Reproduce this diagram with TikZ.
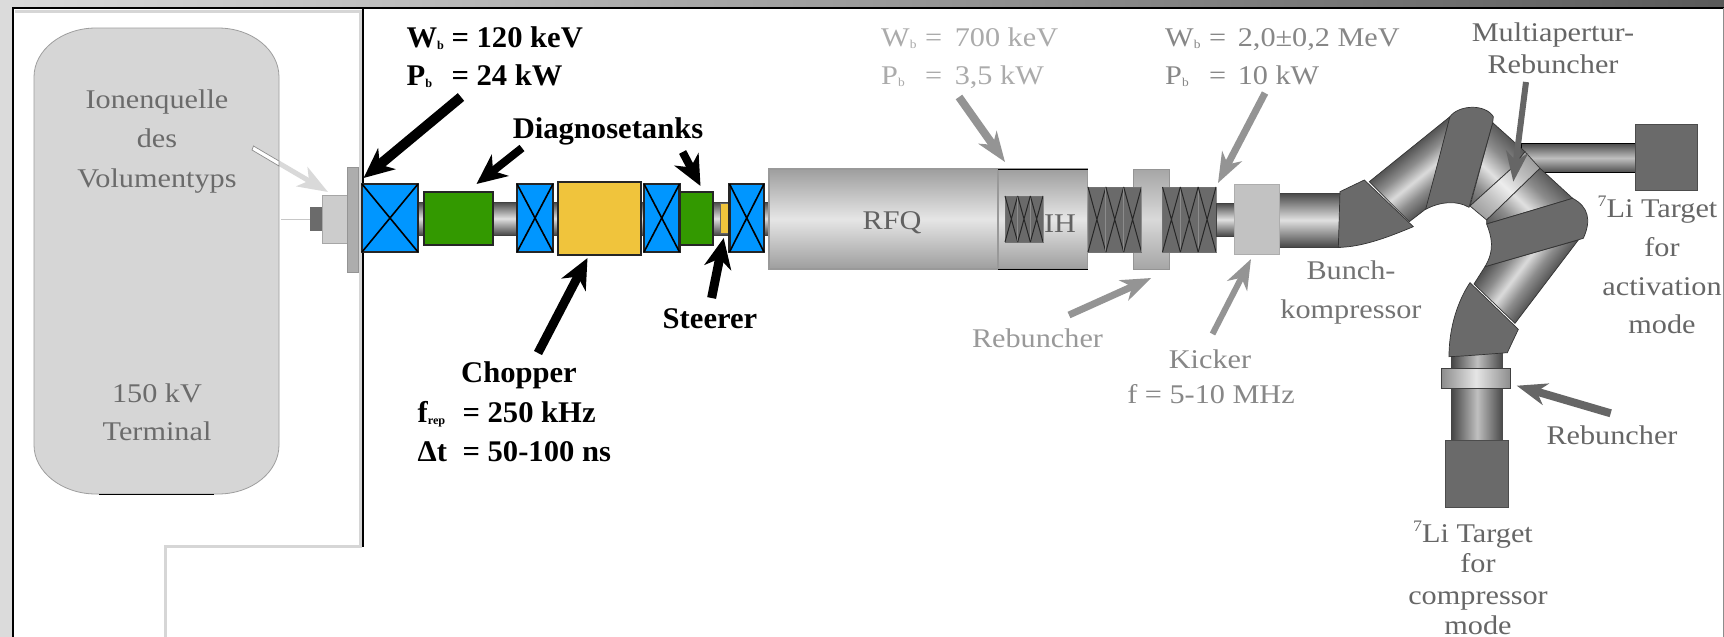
\documentclass[tikz,border=0pt]{standalone}
\usepackage{fontspec}
\setmainfont[FakeStretch=1.12]{Liberation Serif}
\newfontfamily\boldx[FakeStretch=1.02]{Liberation Serif}
\usetikzlibrary{arrows.meta,calc}
\pgfdeclareverticalshading{bandA}{100bp}{rgb(0bp)=(.33,.33,.33); rgb(45.75bp)=(.33,.33,.33); rgb(47.9bp)=(.55,.55,.55); rgb(50bp)=(.86,.86,.86); rgb(52.1bp)=(.55,.55,.55); rgb(54.25bp)=(.33,.33,.33); rgb(100bp)=(.33,.33,.33)}
\pgfdeclareverticalshading{bandB}{100bp}{rgb(0bp)=(.35,.35,.35); rgb(44.25bp)=(.35,.35,.35); rgb(47.1bp)=(.55,.55,.55); rgb(50bp)=(.88,.88,.88); rgb(52.9bp)=(.55,.55,.55); rgb(55.75bp)=(.35,.35,.35); rgb(100bp)=(.35,.35,.35)}
\pgfdeclareverticalshading{bandC}{100bp}{rgb(0bp)=(.62,.62,.62); rgb(44.25bp)=(.62,.62,.62); rgb(47.1bp)=(.75,.75,.75); rgb(50bp)=(.93,.93,.93); rgb(52.9bp)=(.75,.75,.75); rgb(55.75bp)=(.62,.62,.62); rgb(100bp)=(.62,.62,.62)}
\definecolor{magblue}{HTML}{0096FF}
\definecolor{tankgreen}{HTML}{339900}
\definecolor{chopyellow}{HTML}{F0C43C}
\definecolor{edgedark}{HTML}{262626}
\definecolor{blockgrey}{HTML}{6A6A6A}
\tikzset{
  magnet/.style={draw=edgedark,line width=2.8pt,fill=magblue},
  tank/.style={draw=edgedark,line width=2pt,fill=tankgreen},
  chopbox/.style={draw=edgedark,line width=2pt,fill=chopyellow},
  tube/.style={top color=black!72,bottom color=black!72,middle color=black!12,draw=black!75,line width=.5pt},
  cavity/.style={top color=black!38,bottom color=black!38,middle color=black!10,draw=black!40,line width=1.5pt},
  xblock/.style={fill=blockgrey,draw=black!55,line width=1pt},
  darkblock/.style={fill=blockgrey,draw=black!70,line width=1pt},
  lightbox/.style={fill=black!24,draw=black!32,line width=1pt},
  bendedge/.style={draw=black!80,line width=.7pt},
  txtgrey/.style={font=\fontsize{27}{30}\selectfont,text=black!#1},
  txtbold/.style={font=\boldx\bfseries\fontsize{30}{32}\selectfont,text=black},
  arrowk/.style={-{Stealth[length=30pt,width=27pt,inset=9pt]},line width=#1,draw=black,fill=black},
  arrowg/.style={-{Stealth[length=30pt,width=22pt,inset=9pt]},line width=#1,draw=black!42,fill=black!42},
  arrowd/.style={-{Stealth[length=30pt,width=22pt,inset=9pt]},line width=#1,draw=black!60,fill=black!60},
}
\newcommand\boxn[6]{%
  \pgfmathsetmacro\bw{#5-#3}\pgfmathsetmacro\bh{#6-#4}%
  \pgfmathsetmacro\bx{(#3+#5)/2}\pgfmathsetmacro\by{(#4+#6)/2}%
  \node[#2,minimum width=\bw pt,minimum height=\bh pt,inner sep=0pt,outer sep=0pt] (#1) at (\bx,\by) {};}
\newcommand\txtc[5]{\node[#2,anchor=base,inner sep=0pt] (#1) at (#3,#4) {#5};}
\newcommand\txtl[5]{\node[#2,anchor=base west,inner sep=0pt] (#1) at (#3,#4) {#5};}
\newcommand\subb[1]{\raisebox{-2pt}{\fontsize{12}{12}\selectfont #1}}
\newcommand\sevenli{\raisebox{11pt}{\fontsize{16}{16}\selectfont 7}Li Target}
\newcommand\xcross[1]{\draw[line width=1.6pt,black] (#1.north west) -- (#1.south east) (#1.north east) -- (#1.south west);}
\newcommand\xcells[6]{% x1 y1 x2 y2 n colour
  \pgfmathsetmacro\cw{(#3-#1)/#5}%
  \foreach \i in {1,...,#5}{%
    \pgfmathsetmacro\xa{#1+(\i-1)*\cw}\pgfmathsetmacro\xb{#1+\i*\cw}%
    \draw[#6,line width=1pt] (\xa,#2) -- (\xb,#4) (\xb,#2) -- (\xa,#4);
    \draw[black!45,line width=.8pt] (\xb,#2) -- (\xb,#4);
  }}
\newcommand\bandseg[5]{% path, cx, cy, angle, shading
  \begin{scope}\clip #1;
    \shade[shading=#5,shading angle=#4,shift={(#2,#3)}] (-500,-500) rectangle (500,500);
  \end{scope}
  \draw[bendedge] #1;}
\begin{document}
\begin{tikzpicture}[x=1pt,y=-1pt]
\useasboundingbox (0,0) rectangle (1724,637);
\fill[white] (0,0) rectangle (1724,637);
% frame
\shade[left color=black!14,right color=black!65] (0,0) rectangle (1724,8);
\fill[black!14] (0,0) rectangle (12,637);
\draw[black,line width=2pt] (1724,8) -- (12.5,8) -- (12.5,637);
\draw[black!45,line width=1pt] (1723.5,8) -- (1723.5,637);
\draw[black!16,line width=3pt] (15,11.5) -- (360,11.5) -- (360,546) -- (165,546) -- (165,637);
\draw[black,line width=2pt] (363,8) -- (363,547);
% terminal
\draw[fill=black!16,draw=black!38,line width=.8pt] (34,77) .. controls (34,50) and (62,28) .. (96,28) -- (218,28) .. controls (252,28) and (279,50) .. (279,77) -- (279,445) .. controls (279,472) and (252,494) .. (218,494) -- (96,494) .. controls (62,494) and (34,472) .. (34,445) -- cycle;
\draw[black,line width=1pt] (99,494) -- (214,494);
\txtc{t1}{txtgrey=58}{157}{108}{Ionenquelle}
\txtc{t2}{txtgrey=58}{157}{147}{des}
\txtc{t3}{txtgrey=58}{157}{187}{Volumentyps}
\txtc{t4}{txtgrey=58}{157}{402}{150 kV}
\txtc{t5}{txtgrey=58}{157}{440}{Terminal}
% ion source
\coordinate (termright) at (281,219);
\boxn{nub}{fill=black!58}{310}{207}{322}{231}
\draw[black!22,line width=.8pt] (termright) -- (nub.west);
\boxn{srcbody}{fill=black!20,draw=black!35,line width=.6pt}{322}{195}{347.5}{243}
\boxn{flange}{fill=black!32,draw=black!42,line width=.6pt}{347.5}{167}{358}{272}
\coordinate (a0s) at (253,148);
\draw[-{Stealth[length=30pt,width=22pt,inset=8pt]},line width=5pt,draw=black!15,fill=black!15] (a0s) -- ($(srcbody.north west)+(6,-3)$);
\draw[fill=white,draw=black!45,line width=.7pt] (253.5,146) -- (279,161) -- (279,166) -- (252,150) -- cycle;
% beamline tubes
\boxn{p1}{tube}{418}{202}{425}{235}
\boxn{p2}{tube}{493}{202}{517}{235}
\boxn{p3}{tube}{553}{202}{558}{235}
\boxn{p4}{tube}{641}{202}{644}{235}
\boxn{p5}{tube}{713}{202}{731}{235}
\boxn{p6}{tube}{764}{202}{769}{235}
% magnets and tanks
\boxn{blue1}{magnet}{362}{184}{418}{252}\xcross{blue1}
\boxn{green1}{tank}{424}{192}{493}{245}
\boxn{blue2}{magnet}{517}{184}{553}{252}\xcross{blue2}
\boxn{chopper}{chopbox}{558}{182}{641}{255}
\boxn{blue3}{magnet}{644}{184}{679.5}{252}\xcross{blue3}
\boxn{green2}{tank}{680}{192}{713}{245}
\boxn{steerer}{fill=chopyellow,draw=black!60,line width=1pt}{720.5}{203}{729.5}{233}
\boxn{blue4}{magnet}{729.5}{184}{764}{252}\xcross{blue4}
% RFQ and IH
\boxn{rfq}{cavity}{769}{169}{998}{269}
\boxn{ih}{cavity}{998}{169}{1087.5}{269}
\draw[black,line width=1pt] (ih.north west) -- (ih.north east) (ih.south west) -- (ih.south east);
\txtc{t6}{txtgrey=62}{892}{229}{RFQ}
\boxn{ihcell}{xblock}{1005}{196}{1043}{242}
\xcells{1005}{196}{1043}{242}{3}{black!85}
\txtc{t7}{txtgrey=62}{1060}{232}{IH}
% rebuncher and blocks
\boxn{reb1}{top color=black!35,bottom color=black!35,middle color=black!15,draw=black!42,line width=1pt}{1133.5}{169}{1169}{269}
\boxn{blk2}{xblock}{1088}{187}{1141.5}{252}
\xcells{1088}{187}{1141.5}{252}{3}{black!85}
\boxn{blk3}{xblock}{1162.5}{187}{1216}{252}
\xcells{1162.5}{187}{1216}{252}{3}{black!85}
\boxn{p7}{tube}{1216}{203}{1234}{236}
\boxn{p8}{tube}{1279}{193}{1340}{247}
\boxn{kicker}{lightbox}{1234}{184}{1279.5}{254}
% right hand target tube and block
\boxn{p9}{top color=black!70,bottom color=black!70,middle color=black!25,draw=black,line width=1pt}{1521}{143.5}{1636}{172.5}
\boxn{target1}{darkblock}{1635}{124.5}{1697}{190.5}
% vertical tube
\boxn{p10}{left color=black!72,right color=black!72,middle color=black!25}{1451.7}{350}{1502.7}{441}
% bending section, given in the coordinates of a 3x view
\begin{scope}[x=.33333pt,y=-.33333pt,shift={(3750,0)}]
  \bandseg{(358,545)--(600,350)--(530,625)--(478,665)--cycle}{418}{605}{38.9}{bandA}
  \bandseg{(728,368)--(825,455)--(785,505)--(660,618)--cycle}{650}{451}{-43.4}{bandB}
  \bandseg{(660,618)--(785,505)--(825,455)--(870,505)--(710,660)--cycle}{650}{451}{-43.4}{bandC}
  \bandseg{(870,505)--(968,595)--(710,672)--(710,660)--cycle}{650}{451}{-43.4}{bandB}
  \bandseg{(705,800)--(985,720)--(795,970)--(672,852)--cycle}{727}{919}{52.8}{bandA}
  \draw[fill=blockgrey,bendedge] (270,575) -- (343,540) -- (490,680) .. controls (430,705) and (340,742) .. (265,742) -- cycle;
  \draw[fill=blockgrey,bendedge] (600,350) .. controls (625,315) and (705,310) .. (730,350) -- (728,368) -- (657,622) .. controls (620,600) and (570,605) .. (527,628) -- cycle;
  \draw[fill=blockgrey,bendedge] (968,595) .. controls (1015,620) and (1025,660) .. (1000,715) -- (705,800) .. controls (735,750) and (725,710) .. (710,672) -- cycle;
  \draw[fill=blockgrey,bendedge] (660,848) -- (805,988) -- (772,1058) .. controls (720,1062) and (650,1068) .. (597,1070) .. controls (597,980) and (625,900) .. (660,848) -- cycle;
\end{scope}
\boxn{ring}{left color=black!45,right color=black!45,middle color=black!10,draw=black!75,line width=.8pt}{1441.3}{368.3}{1510.7}{388.3}
\boxn{target2}{darkblock}{1445.7}{440}{1508.7}{507.3}
% black labels
\txtl{l1a}{txtbold}{406.4}{47}{\makebox[45pt][l]{W\subb{b}}= 120 keV}
\txtl{l1b}{txtbold}{406.4}{85}{\makebox[45pt][l]{P\subb{b}}= 24 kW}
\txtc{l2}{txtbold}{608}{138}{Diagnosetanks}
\txtc{l3}{txtbold}{710}{328}{Steerer}
\txtc{l4a}{txtbold}{519}{382}{Chopper}
\txtl{l4b}{txtbold}{417.4}{422}{\makebox[45pt][l]{f\subb{rep}}= 250 kHz}
\txtl{l4c}{txtbold}{417.4}{461}{\makebox[45pt][l]{Δt}= 50-100 ns}
% grey labels
\txtl{g1a}{txtgrey=33}{881}{46}{\makebox[44pt][l]{W\subb{b}}=\hspace{5pt} 700 keV}
\txtl{g1b}{txtgrey=33}{881}{84}{\makebox[44pt][l]{P\subb{b}}=\hspace{5pt} 3,5 kW}
\txtl{g2a}{txtgrey=47}{1165}{46}{\makebox[44pt][l]{W\subb{b}}=\hspace{4pt} 2,0±0,2 MeV}
\txtl{g2b}{txtgrey=47}{1165}{84}{\makebox[44pt][l]{P\subb{b}}=\hspace{4pt} 10 kW}
\txtc{g3}{txtgrey=40}{1037.5}{347}{Rebuncher}
\txtc{g4a}{txtgrey=47}{1210}{368}{Kicker}
\txtc{g4b}{txtgrey=47}{1211}{403}{f = 5-10 MHz}
\txtc{g5a}{txtgrey=60}{1553}{41}{Multiapertur-}
\txtc{g5b}{txtgrey=60}{1553}{73}{Rebuncher}
\txtc{g6a}{txtgrey=55}{1351}{279}{Bunch-}
\txtc{g6b}{txtgrey=55}{1351}{318}{kompressor}
\txtc{g7a}{txtgrey=60}{1657.5}{217}{\sevenli}
\txtc{g7b}{txtgrey=60}{1662}{256}{for}
\txtc{g7c}{txtgrey=60}{1662}{295}{activation}
\txtc{g7d}{txtgrey=60}{1662}{333}{mode}
\txtc{g8}{txtgrey=60}{1612}{444}{Rebuncher}
\txtc{g9a}{txtgrey=60}{1473}{542}{\sevenli}
\txtc{g9b}{txtgrey=60}{1478}{572}{for}
\txtc{g9c}{txtgrey=60}{1478}{604}{compressor}
\txtc{g9d}{txtgrey=60}{1478}{634}{mode}
% arrows
\coordinate (a1s) at (461,97);
\coordinate (a2s) at (522,148);
\coordinate (a3s) at (682.6,152);
\coordinate (a4s) at (538,353);
\coordinate (a5s) at (711.6,298);
\coordinate (a6s) at (959,97);
\coordinate (a7s) at (1265,93);
\coordinate (a8s) at (1069,315);
\coordinate (a9s) at (1212.5,334);
\coordinate (a10s) at (1526,82);
\coordinate (a11s) at (1610.7,413.3);
\draw[arrowk=10pt] (a1s) -- ($(blue1.north west)+(1.6,-6)$);
\draw[arrowk=8pt] (a2s) -- ($(green1.north)+(18,-8)$);
\draw[arrowk=8pt] (a3s) -- ($(green2.north)+(4,-6)$);
\draw[arrowk=9pt] (a4s) -- ($(chopper.south)+(-12,3)$);
\draw[arrowk=9pt] (a5s) -- ($(steerer.south)+(-1.3,5)$);
\draw[arrowg=8pt] (a6s) -- ($(ih.north west)+(7,-7)$);
\draw[arrowg=7pt] (a7s) -- ($(blk3.north east)+(2,-4)$);
\draw[arrowg=7pt] (a8s) -- ($(reb1.south)+(0,9)$);
\draw[arrowg=6pt] (a9s) -- ($(kicker.south)+(-5.75,5)$);
\draw[arrowd=6pt] (a10s) -- ($(p9.west)+(-7.7,23.7)$);
\draw[arrowd=8pt] (a11s) -- ($(ring.east)+(6,7.4)$);
\end{tikzpicture}
\end{document}
